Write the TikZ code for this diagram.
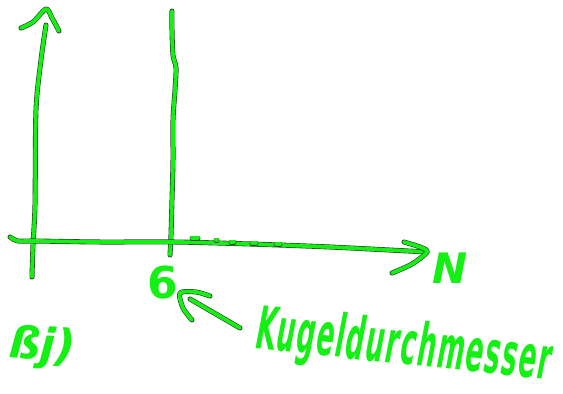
\documentclass[tikz,border=0pt]{standalone}
\usepackage{fontspec}
\setmainfont{DejaVu Sans}
\usepackage{graphicx}
\definecolor{inkgreen}{RGB}{20,240,20}
\definecolor{inkedge}{RGB}{40,60,40}
\tikzset{
  ink/.style={draw=inkgreen, line width=3.8pt, line cap=round, line join=round,
    preaction={draw=inkedge, line width=5pt, line cap=round, line join=round}},
  hand/.style={text=inkgreen, inner sep=0pt, font=\itshape},
}
\begin{document}
\begin{tikzpicture}[x=1pt,y=-1pt]
\useasboundingbox[fill=white] (0,0) rectangle (563,394);
% left vertical arrow
\draw[ink] plot[smooth] coordinates {(32,277) (33,245) (35,205) (36,110) (41,60) (46,25)};
\draw[ink] plot[smooth] coordinates {(21,28) (33,22) (46,9) (52,18) (59,31)};
% second vertical line
\draw[ink] plot[smooth] coordinates {(172,11) (172,30) (173,55) (176,68) (175,90) (173,120) (173,160) (172,200) (171,235) (170,255)};
% horizontal axis arrow
\draw[ink] plot[smooth] coordinates {(10,237) (18,241) (35,241) (100,242) (175,242) (250,244) (330,247) (427,252)};
\draw[ink] plot[smooth] coordinates {(404,242) (420,247) (427,252) (412,264) (392,273)};
% dots after the line
\draw[ink] (192,238) -- (198,238);
\draw[ink] (216,240) -- (217,240);
\draw[ink] (231,242) -- (234,242);
\draw[ink] (252,243) -- (256,243);
\draw[ink] (276,244) -- (280,244);
% arrow to the 6
\draw[ink] (240,328) -- (190,299);
\draw[ink] plot[smooth] coordinates {(210,296) (196,292) (180,293) (183,308) (192,320)};
% texts
\node[hand, font=\fontsize{44}{44}\selectfont\bfseries] (six) at (163,283) {6};
\node[hand, font=\fontsize{42}{42}\selectfont\bfseries\itshape] (n) at (450,268) {N};
\node[hand, rotate=-6] (kugel) at (404,348) {\resizebox*{296pt}{58pt}{\bfseries\itshape\addfontfeature{LetterSpace=6}Kugeldurchmesser}};
\node[hand, anchor=east, rotate=-4, font=\fontsize{44}{44}\selectfont\bfseries\itshape] (frag) at (76,350) {ßj)};
\end{tikzpicture}
\end{document}
